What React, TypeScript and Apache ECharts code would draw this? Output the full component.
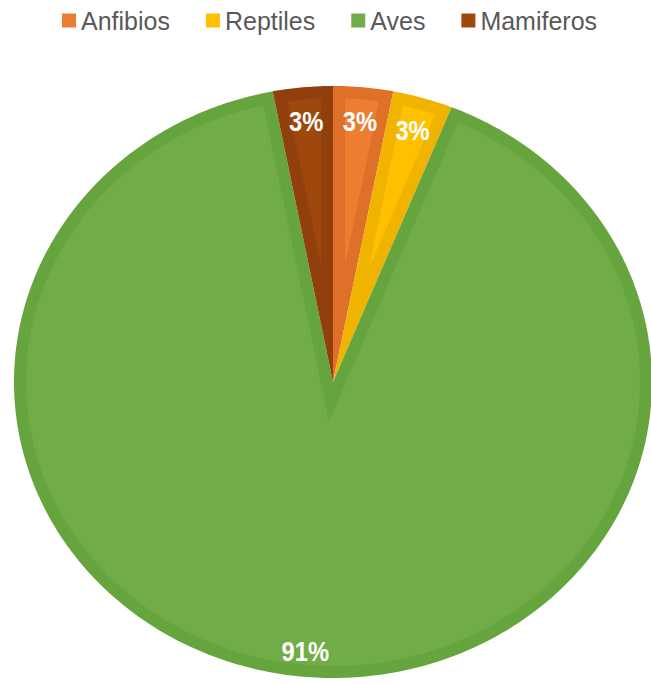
import React, { useEffect, useRef } from "react";
import * as echarts from "echarts";

// ---- data ----
const CATEGORIES = ["Anfibios", "Reptiles", "Aves", "Mamiferos"];
const VALUES = [1, 1, 30, 1];

// ---- styles ----
const FILL_COLORS = ["#ED7D31", "#FFC000", "#70AD47", "#9E480E"];
const BEVEL_COLORS = ["#DE7029", "#EFB300", "#66A43E", "#913F0C"];

const CX = 333;
const CY = 382;
const RX = 319;
const RY = 296;
const BEVEL = 12;

type P = [number, number];

function pt(a: number, rx: number, ry: number): P {
  const r = (a * Math.PI) / 180;
  return [CX + rx * Math.sin(r), CY - ry * Math.cos(r)];
}
function norm(v: P): P {
  const l = Math.hypot(v[0], v[1]);
  return [v[0] / l, v[1] / l];
}
function arc(a0: number, a1: number, rx: number, ry: number): P[] {
  const n = Math.max(2, Math.ceil((a1 - a0) / 0.8));
  const out: P[] = [];
  for (let k = 0; k <= n; k++) out.push(pt(a0 + ((a1 - a0) * k) / n, rx, ry));
  return out;
}

function slicePolys(a0: number, a1: number) {
  const outer: P[] = [[CX, CY], ...arc(a0, a1, RX, RY)];
  const w = BEVEL;
  const p0 = pt(a0, RX, RY);
  const p1 = pt(a1, RX, RY);
  const d0 = norm([p0[0] - CX, p0[1] - CY]);
  const d1 = norm([p1[0] - CX, p1[1] - CY]);
  const n0: P = [-d0[1], d0[0]];
  const n1: P = [d1[1], -d1[0]];
  const b: P = [w * (n1[0] - n0[0]), w * (n1[1] - n0[1])];
  const det = -d0[0] * d1[1] + d1[0] * d0[1];
  const t = (-b[0] * d1[1] + d1[0] * b[1]) / det;
  const apex: P = [CX + w * n0[0] + t * d0[0], CY + w * n0[1] + t * d0[1]];
  const irx = RX - w;
  const iry = RY - w;
  const f0 = (th: number) => {
    const q = pt(th, irx, iry);
    return (q[0] - CX - w * n0[0]) * n0[0] + (q[1] - CY - w * n0[1]) * n0[1];
  };
  const f1 = (th: number) => {
    const q = pt(th, irx, iry);
    return (q[0] - CX - w * n1[0]) * n1[0] + (q[1] - CY - w * n1[1]) * n1[1];
  };
  const mid = (a0 + a1) / 2;
  let lo = a0, hi = mid;
  for (let k = 0; k < 40; k++) {
    const m = (lo + hi) / 2;
    if (f0(m) < 0) lo = m; else hi = m;
  }
  const th0 = (lo + hi) / 2;
  lo = mid; hi = a1;
  for (let k = 0; k < 40; k++) {
    const m = (lo + hi) / 2;
    if (f1(m) > 0) lo = m; else hi = m;
  }
  const th1 = (lo + hi) / 2;
  const inner: P[] = [apex, ...arc(th0, th1, irx, iry)];
  return { outer, inner };
}

export default function App() {
  const ref = useRef<HTMLDivElement>(null);
  useEffect(() => {
    if (!ref.current) return;
    const chart = echarts.init(ref.current, undefined, { renderer: "svg" });
    const total = VALUES.reduce((s, v) => s + v, 0);
    const series = CATEGORIES.map((name, i) => ({
      type: "custom" as const,
      name,
      coordinateSystem: "none",
      silent: true,
      itemStyle: { color: FILL_COLORS[i] },
      data: [[VALUES[i]]],
      renderItem: (_params: any, api: any) => {
        const v = api.value(0);
        let before = 0;
        for (let k = 0; k < i; k++) before += VALUES[k];
        const a0 = (before / total) * 360;
        const a1 = ((before + v) / total) * 360;
        const { outer, inner } = slicePolys(a0, a1);
        const m = ((a0 + a1) / 2) * Math.PI / 180;
        const share = v / total;
        const f = share > 0.5 ? 0.915 : 0.885;
        const lx = CX + RX * f * Math.sin(m);
        const ly = CY - RY * f * Math.cos(m);
        return {
          type: "group",
          children: [
            { type: "polygon", shape: { points: outer }, style: { fill: BEVEL_COLORS[i] } },
            { type: "polygon", shape: { points: inner }, style: { fill: FILL_COLORS[i] } },
            {
              type: "text",
              x: lx,
              y: ly,
              scaleX: 0.95,
              scaleY: 1.12,
              style: {
                text: Math.round(share * 100) + "%",
                fill: "#FFFFFF",
                fontSize: 25,
                fontWeight: "bold",
                fontFamily: "Liberation Sans",
                align: "center",
                verticalAlign: "middle",
              },
            },
          ],
        };
      },
    }));
    chart.setOption({
      animation: false,
      backgroundColor: "#FFFFFF",
      legend: {
        data: CATEGORIES,
        left: 62,
        top: 8,
        padding: 0,
        icon: "rect",
        itemWidth: 14,
        itemHeight: 14,
        itemGap: 36,
        selectedMode: false,
        textStyle: { fontFamily: "Liberation Sans", fontSize: 25, color: "#595959" },
      },
      series,
    });
    return () => chart.dispose();
  }, []);
  return (
    <div
      ref={ref}
      style={{ position: "absolute", left: 0, top: 0, width: 651, height: 684 }}
    />
  );
}
